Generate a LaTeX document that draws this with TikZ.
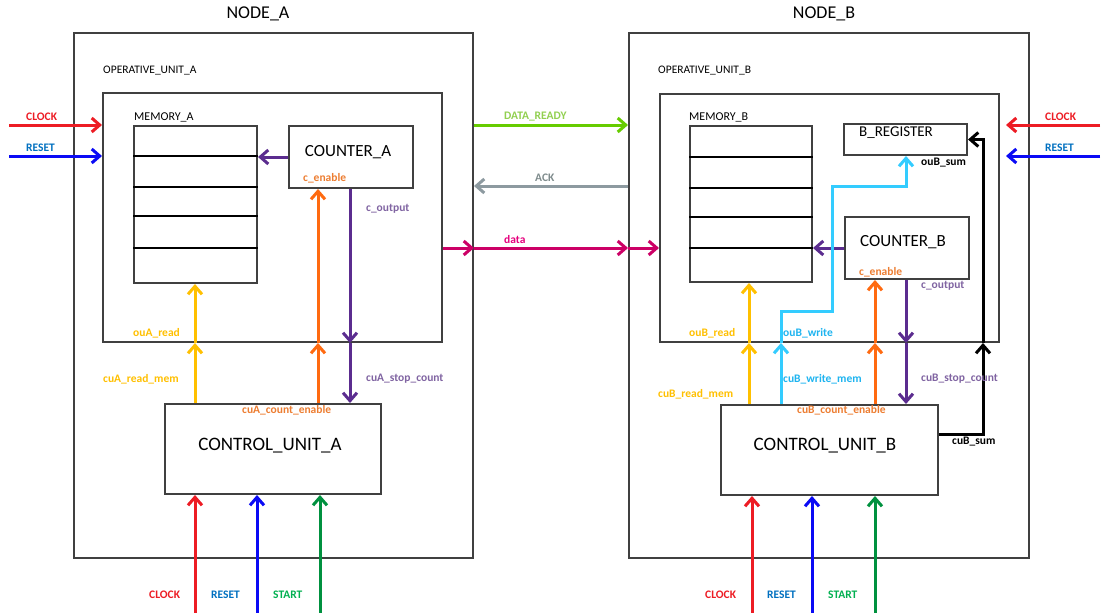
\documentclass[tikz,border=0pt]{standalone}
\usepackage{fontspec}
\setmainfont{Carlito}
\usetikzlibrary{arrows.meta, positioning}

\definecolor{frame}{HTML}{404040}
\definecolor{clkred}{HTML}{ED1C24}
\definecolor{rstblue}{HTML}{0A0AF5}
\definecolor{rstlbl}{HTML}{0070C0}
\definecolor{stgreen}{HTML}{00913F}
\definecolor{stlbl}{HTML}{00B050}
\definecolor{rdyel}{HTML}{FFC000}
\definecolor{enorange}{HTML}{FF6A10}
\definecolor{enlbl}{HTML}{ED7D31}
\definecolor{stpurple}{HTML}{5B2C8F}
\definecolor{stplbl}{HTML}{8064A2}
\definecolor{wrcyan}{HTML}{33CCFF}
\definecolor{wrlbl}{HTML}{1EB4F0}
\definecolor{drgreen}{HTML}{66CC00}
\definecolor{drlbl}{HTML}{92D050}
\definecolor{ackgray}{HTML}{8D9AA0}
\definecolor{acklbl}{HTML}{7F8C8D}
\definecolor{datmag}{HTML}{CC0066}
\definecolor{datlbl}{HTML}{E6007E}

\tikzset{
  box/.style={draw=frame, line width=2pt, inner sep=0pt, anchor=north west},
  row/.style={draw=black, line width=1.5pt},
  sig/.style={line width=3pt, -{Straight Barb[length=8pt,width=14pt]}},
  lbl/.style={font=\fontsize{11.5}{13}\selectfont\bfseries, inner sep=0pt, anchor=west},
  tag/.style={font=\fontsize{11.5}{13}\selectfont, inner sep=0pt, anchor=west},
  big/.style={font=\fontsize{18}{20}\selectfont, inner sep=0pt},
}

\begin{document}
\begin{tikzpicture}[x=1pt,y=-1pt]
\useasboundingbox[fill=white] (0,0) rectangle (1111,613);

% ---------- NODE_A ----------
\node[big] (titA) at (258,14) {NODE\_A};
\node[box, minimum width=399, minimum height=525] (nodeA) at (73,32) {};
\node[tag] (ouAname) at (103,71) {OPERATIVE\_UNIT\_A};
\node[box, minimum width=339, minimum height=249] (ouA) at (102,92) {};
\node[tag, font=\fontsize{12}{14}\selectfont] (memAname) at (134,117) {MEMORY\_A};
\node[box, minimum width=123, minimum height=157] (memA) at (133,125) {};
\foreach \r in {156,187,216,248}
  \draw[row] (memA.west |- 0,\r) -- (memA.east |- 0,\r);
\node[box, minimum width=124, minimum height=62] (cntA) at (288,125) {};
\node[big, font=\fontsize{17}{19}\selectfont] (cntAname) at (348,152) {COUNTER\_A};
\node[box, minimum width=216, minimum height=90] (cuA) at (164,403) {};
\node[big, font=\fontsize{19}{21}\selectfont] (cuAname) at (270,446) {CONTROL\_UNIT\_A};

% columns of node A
\coordinate (colArd) at (195,0);
\coordinate (colAen) at (318,0);
\coordinate (colAst) at (350,0);
\coordinate (inAclk) at (195,613);
\coordinate (inArst) at (257,613);
\coordinate (inAst) at (320,613);
\coordinate (inLclk) at (9,125);
\coordinate (inLrst) at (9,156);

\draw[sig, stpurple] (cntA.west) -- (cntA.west -| memA.east);
\draw[sig, rdyel] (cuA.north -| colArd) -- (ouA.south -| colArd);
\draw[sig, rdyel] (ouA.south -| colArd) -- (memA.south -| colArd);
\draw[sig, enorange] (cuA.north -| colAen) -- (ouA.south -| colAen);
\draw[sig, enorange] (ouA.south -| colAen) -- (cntA.south -| colAen);
\draw[sig, stpurple] (cntA.south -| colAst) -- (ouA.south -| colAst);
\draw[sig, stpurple] (ouA.south -| colAst) -- (cuA.north -| colAst);
\draw[sig, clkred] (inAclk) -- (cuA.south -| inAclk);
\draw[sig, rstblue] (inArst) -- (cuA.south -| inArst);
\draw[sig, stgreen] (inAst) -- (cuA.south -| inAst);
\draw[sig, clkred] (inLclk) -- (ouA.west |- inLclk);
\draw[sig, rstblue] (inLrst) -- (ouA.west |- inLrst);

\node[lbl, enlbl] (cenA) at (303,178) {c\_enable};
\node[lbl, stplbl] (coutA) at (366,209) {c\_output};
\node[lbl, rdyel] (ourdA) at (133,333) {ouA\_read};
\node[lbl, rdyel] (curdA) at (103,379) {cuA\_read\_mem};
\node[lbl, stplbl] (custA) at (366,379) {cuA\_stop\_count};
\node[lbl, enlbl] (cuenA) at (242,410) {cuA\_count\_enable};
\node[lbl, clkred] (clkLlbl) at (26,117) {CLOCK};
\node[lbl, rstlbl] (rstLlbl) at (26,148) {RESET};
\node[lbl, clkred] (clkAlbl) at (149,595) {CLOCK};
\node[lbl, rstlbl] (rstAlbl) at (211,595) {RESET};
\node[lbl, stlbl] (stAlbl) at (273,595) {START};

% ---------- NODE_B ----------
\node[big] (titB) at (824,14) {NODE\_B};
\node[box, minimum width=400, minimum height=525] (nodeB) at (628,32) {};
\node[tag] (ouBname) at (658,71) {OPERATIVE\_UNIT\_B};
\node[box, minimum width=339, minimum height=248] (ouB) at (659,93) {};
\node[tag, font=\fontsize{12}{14}\selectfont] (memBname) at (689,117) {MEMORY\_B};
\node[box, minimum width=122, minimum height=156] (memB) at (689,125) {};
\foreach \r in {157,188,217,248}
  \draw[row] (memB.west |- 0,\r) -- (memB.east |- 0,\r);
\node[box, minimum width=123, minimum height=31] (regB) at (843,123) {};
\node[big, font=\fontsize{15}{17}\selectfont] (regBname) at (896,133) {B\_REGISTER};
\node[box, minimum width=124, minimum height=62] (cntB) at (844,216) {};
\node[big, font=\fontsize{17}{19}\selectfont] (cntBname) at (903,242) {COUNTER\_B};
\node[box, minimum width=217, minimum height=90] (cuB) at (720,404) {};
\node[big, font=\fontsize{19}{21}\selectfont] (cuBname) at (825,446) {CONTROL\_UNIT\_B};

% columns of node B
\coordinate (colBrd) at (749,0);
\coordinate (colBwr) at (781,0);
\coordinate (colBen) at (875,0);
\coordinate (colBst) at (906,0);
\coordinate (wrBend) at (832,311);
\coordinate (wrBtop) at (906,186);
\coordinate (sumB) at (983,434);
\coordinate (inBclk) at (752,613);
\coordinate (inBrst) at (812,613);
\coordinate (inBst) at (875,613);
\coordinate (inRclk) at (1100,125);
\coordinate (inRrst) at (1100,156);

\draw[sig, stpurple] (cntB.west) -- (cntB.west -| memB.east);
\draw[sig, rdyel] (cuB.north -| colBrd) -- (ouB.south -| colBrd);
\draw[sig, rdyel] (ouB.south -| colBrd) -- (memB.south -| colBrd);
\draw[sig, wrcyan] (cuB.north -| colBwr) -- (ouB.south -| colBwr);
\draw[sig, wrcyan] (ouB.south -| colBwr) |- (wrBend) |- (wrBtop) -- (regB.south -| wrBtop);
\draw[sig, enorange] (cuB.north -| colBen) -- (ouB.south -| colBen);
\draw[sig, enorange] (ouB.south -| colBen) -- (cntB.south -| colBen);
\draw[sig, stpurple] (cntB.south -| colBst) -- (ouB.south -| colBst);
\draw[sig, stpurple] (ouB.south -| colBst) -- (cuB.north -| colBst);
\draw[sig, black] (cuB.east |- sumB) -| (ouB.south -| sumB);
\draw[sig, black] (ouB.south -| sumB) |- (regB.east);
\draw[sig, clkred] (inBclk) -- (cuB.south -| inBclk);
\draw[sig, rstblue] (inBrst) -- (cuB.south -| inBrst);
\draw[sig, stgreen] (inBst) -- (cuB.south -| inBst);
\draw[sig, clkred, shorten >=6pt] (inRclk) -- (ouB.east |- inRclk);
\draw[sig, rstblue, shorten >=6pt] (inRrst) -- (ouB.east |- inRrst);

\node[lbl, black] (sumBlbl) at (921,163) {ouB\_sum};
\node[lbl, enlbl] (cenB) at (859,272) {c\_enable};
\node[lbl, stplbl] (coutB) at (921,286) {c\_output};
\node[lbl, rdyel] (ourdB) at (689,333) {ouB\_read};
\node[lbl, wrlbl] (ouwrB) at (783,333) {ouB\_write};
\node[lbl, rdyel] (curdB) at (658,394) {cuB\_read\_mem};
\node[lbl, wrlbl] (cuwrB) at (783,379) {cuB\_write\_mem};
\node[lbl, stplbl] (custB) at (921,379) {cuB\_stop\_count};
\node[lbl, enlbl] (cuenB) at (797,410) {cuB\_count\_enable};
\node[lbl, black] (cusumB) at (952,442) {cuB\_sum};
\node[lbl, clkred] (clkRlbl) at (1045,117) {CLOCK};
\node[lbl, rstlbl] (rstRlbl) at (1045,148) {RESET};
\node[lbl, clkred] (clkBlbl) at (705,595) {CLOCK};
\node[lbl, rstlbl] (rstBlbl) at (767,595) {RESET};
\node[lbl, stlbl] (stBlbl) at (828,595) {START};

% ---------- between the nodes ----------
\coordinate (rowRdy) at (0,125);
\coordinate (rowAck) at (0,186);
\coordinate (rowDat) at (0,248);
\draw[sig, drgreen] (nodeA.east |- rowRdy) -- (nodeB.west |- rowRdy);
\draw[sig, ackgray] (nodeB.west |- rowAck) -- (nodeA.east |- rowAck);
\draw[sig, datmag] (ouA.east |- rowDat) -- (nodeA.east |- rowDat);
\draw[sig, datmag] (nodeA.east |- rowDat) -- (nodeB.west |- rowDat);
\draw[sig, datmag] (nodeB.west |- rowDat) -- (ouB.west |- rowDat);
\node[lbl, drlbl] (rdylbl) at (504,117) {DATA\_READY};
\node[lbl, acklbl] (acklbl) at (535,178) {ACK};
\node[lbl, datlbl] (datlbl) at (504,240) {data};
\end{tikzpicture}
\end{document}
